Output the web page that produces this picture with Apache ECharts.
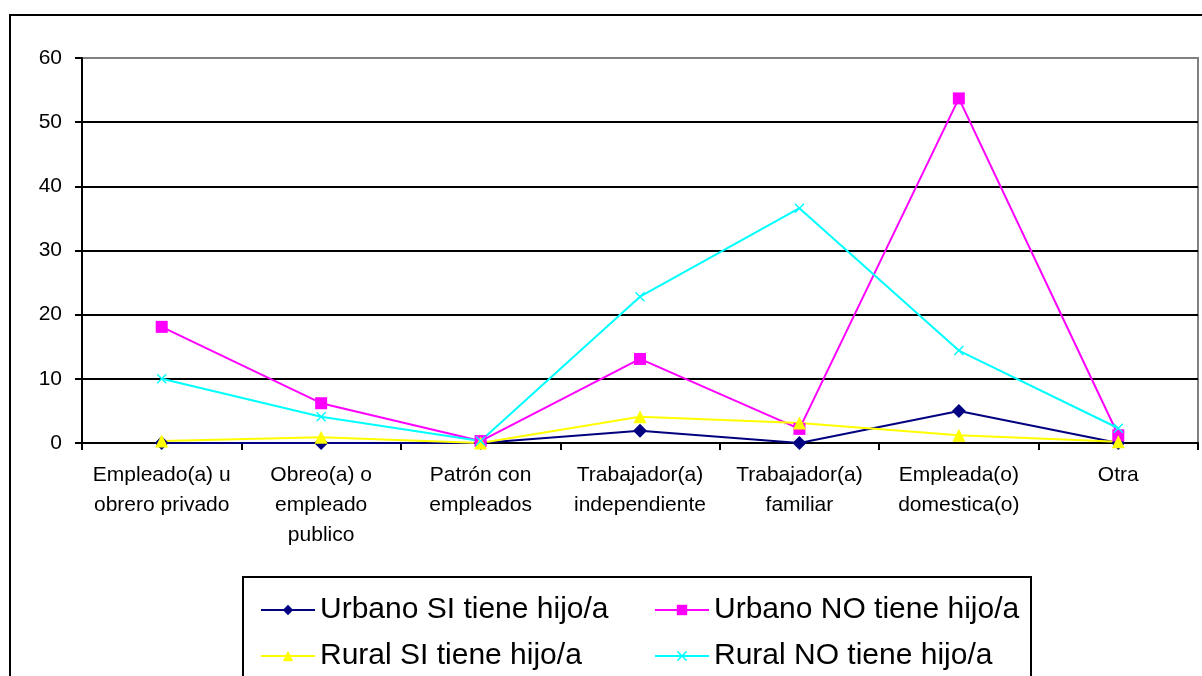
<!DOCTYPE html>
<html>
<head>
<meta charset="utf-8">
<script src="https://cdn.jsdelivr.net/npm/echarts@6/dist/echarts.min.js"></script>
<style>
  html, body { margin: 0; padding: 0; background: #ffffff; }
  #chart { width: 1202px; height: 676px; }
</style>
</head>
<body>
<div id="chart"></div>
<script>
// Categories of occupation (x axis)
const categories = [
  'Empleado(a) u\nobrero privado',
  'Obreo(a) o\nempleado\npublico',
  'Patrón con\nempleados',
  'Trabajador(a)\nindependiente',
  'Trabajador(a)\nfamiliar',
  'Empleada(o)\ndomestica(o)',
  'Otra'
];

// Series names
const nameUrbanoSi = 'Urbano SI tiene hijo/a';
const nameUrbanoNo = 'Urbano NO tiene hijo/a';
const nameRuralSi = 'Rural SI tiene hijo/a';
const nameRuralNo = 'Rural NO tiene hijo/a';

// Percentages per category
const urbanoSi = [0, 0, 0, 1.9, 0, 5.0, 0];
const urbanoNo = [18.1, 6.2, 0.3, 13.1, 2.2, 53.7, 1.2];
const ruralSi = [0.3, 0.9, 0, 4.1, 3.1, 1.2, 0.2];
const ruralNo = [10.0, 4.1, 0.3, 22.8, 36.6, 14.4, 2.3];

// Y axis range
const yMin = 0;
const yMax = 60;
const yStep = 10;

const FONT = '"Liberation Sans", Arial, sans-serif';
const crossSymbol = 'path://M0,1L1,0L5,4L9,0L10,1L6,5L10,9L9,10L5,6L1,10L0,9L4,5Z';

function lineSeries(name, data, color, symbol, size) {
  return {
    name: name,
    type: 'line',
    data: data,
    symbol: symbol,
    symbolSize: size,
    showAllSymbol: true,
    animation: false,
    lineStyle: { color: color, width: 2 },
    itemStyle: { color: color },
    emphasis: { disabled: true }
  };
}

const chart = echarts.init(document.getElementById('chart'), null, { renderer: 'canvas' });

const legendCommon = {
  orient: 'vertical',
  top: 590,
  itemWidth: 54,
  itemHeight: 13,
  itemGap: 16,
  textStyle: { fontFamily: FONT, fontSize: 30, lineHeight: 30, color: '#000' },
  selectedMode: false
};

chart.setOption({
  backgroundColor: '#ffffff',
  animation: false,
  graphic: [
    {
      type: 'rect',
      shape: { x: 10, y: 15, width: 1200, height: 700 },
      style: { fill: 'none', stroke: '#000', lineWidth: 2 },
      z: -1
    },
    {
      type: 'rect',
      shape: { x: 243, y: 577, width: 788, height: 120 },
      style: { fill: '#fff', stroke: '#000', lineWidth: 2 },
      z: 0
    }
  ],
  grid: {
    left: 82,
    right: 4,
    top: 58,
    bottom: 233,
    show: true,
    borderColor: '#808080',
    borderWidth: 2,
    containLabel: false
  },
  legend: [
    Object.assign({}, legendCommon, { left: 255, data: [nameUrbanoSi, nameRuralSi] }),
    Object.assign({}, legendCommon, { left: 649, data: [nameUrbanoNo, nameRuralNo] })
  ],
  xAxis: {
    type: 'category',
    data: categories,
    boundaryGap: true,
    axisLine: { lineStyle: { color: '#000', width: 2 } },
    axisTick: { show: true, length: 7, inside: false, lineStyle: { color: '#000', width: 2 } },
    axisLabel: {
      interval: 0,
      margin: 17,
      fontFamily: FONT,
      fontSize: 21,
      lineHeight: 30,
      color: '#000',
      align: 'center'
    },
    splitLine: { show: false }
  },
  yAxis: {
    type: 'value',
    min: yMin,
    max: yMax,
    interval: yStep,
    axisLine: { show: true, lineStyle: { color: '#000', width: 2 } },
    axisTick: { show: true, length: 7, lineStyle: { color: '#000', width: 2 } },
    axisLabel: { margin: 20, fontFamily: FONT, fontSize: 21, color: '#000' },
    splitLine: {
      show: true,
      lineStyle: {
        color: ['#000', '#000', '#000', '#000', '#000', '#000', '#808080'],
        width: 2
      }
    }
  },
  series: [
    lineSeries(nameUrbanoSi, urbanoSi, '#000080', 'diamond', 14),
    lineSeries(nameUrbanoNo, urbanoNo, '#ff00ff', 'rect', 12),
    lineSeries(nameRuralSi, ruralSi, '#ffff00', 'triangle', 13),
    lineSeries(nameRuralNo, ruralNo, '#00ffff', crossSymbol, 10)
  ]
});
</script>
</body>
</html>
